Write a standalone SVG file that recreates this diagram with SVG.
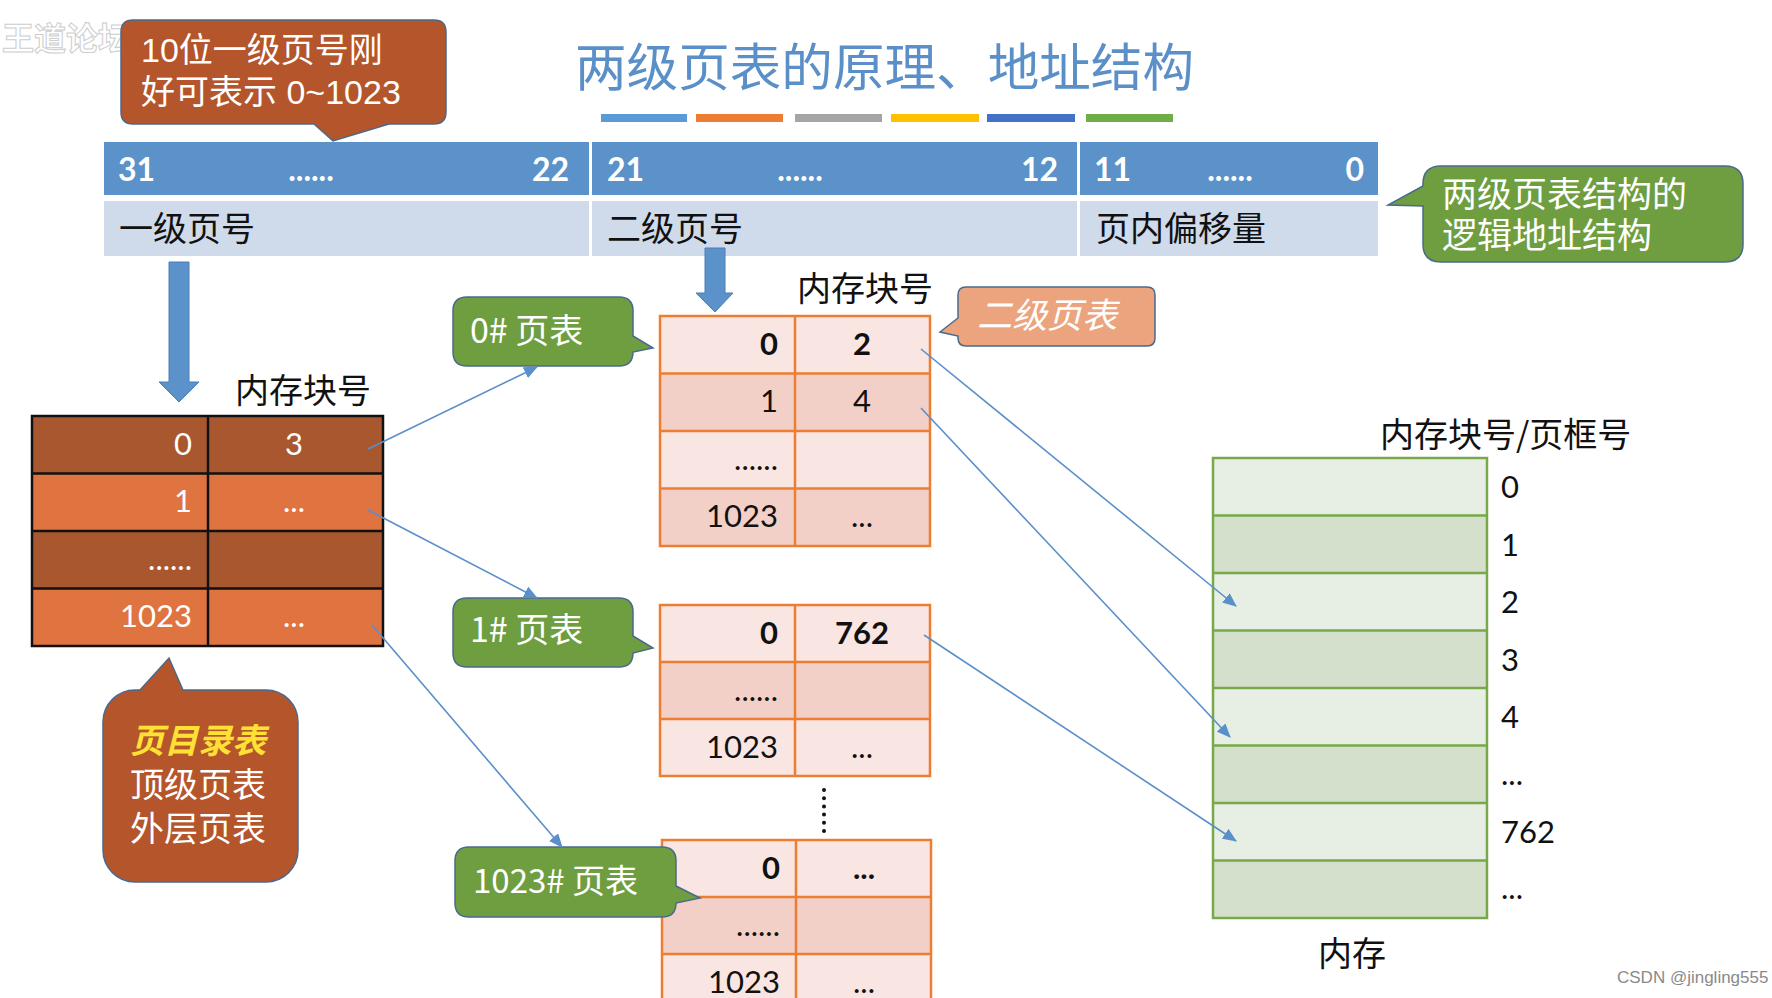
<svg xmlns="http://www.w3.org/2000/svg" width="1772" height="998" viewBox="0 0 1772 998">
<defs>
<style>
.cjk{font-family:"Noto Sans CJK SC","Noto Sans",sans-serif;}
.ml{font-family:"Liberation Sans","Noto Sans CJK SC",sans-serif;}
.num{font-family:Lato,"Noto Sans","Noto Sans CJK SC",sans-serif;}
.hdr{font-family:Lato,"Noto Sans",sans-serif;font-weight:bold;font-size:32px;fill:#fff;}
.lbl{font-family:"Noto Sans CJK SC",sans-serif;font-size:34px;fill:#111;}
.wt{fill:#fff;}
.bk{fill:#111;}
.conn{stroke:#5b8fc9;stroke-width:1.6;fill:none;marker-end:url(#ah);}
.bub{stroke:#4a6a8c;stroke-width:1.5;}
.pt{stroke:#ed7d31;stroke-width:2.5;}
.mem{stroke:#77a94a;stroke-width:2.5;}
.dir{stroke:#111;stroke-width:2.5;}
</style>
<marker id="ah" markerWidth="14" markerHeight="12" refX="13" refY="6" orient="auto" markerUnits="userSpaceOnUse">
<path d="M0,0 L14,6 L0,12 Z" fill="#5b8fc9"/>
</marker>
</defs>
<rect width="1772" height="998" fill="#fff"/>

<!-- watermark -->
<text x="2" y="50" class="cjk" font-size="32" font-weight="bold" fill="#fff" stroke="#c8c8c8" stroke-width="1" opacity="0.9">王道论坛</text>

<!-- title -->
<g id="title">
<text x="575" y="86" class="cjk" font-size="51" fill="#5a8fc8" textLength="619" lengthAdjust="spacingAndGlyphs">两级页表的原理、地址结构</text>
<rect x="601" y="114" width="86" height="8" fill="#5b9bd5"/>
<rect x="696" y="114" width="87" height="8" fill="#ed7d31"/>
<rect x="795" y="114" width="87" height="8" fill="#a5a5a5"/>
<rect x="891" y="114" width="88" height="8" fill="#ffc000"/>
<rect x="987" y="114" width="88" height="8" fill="#4472c4"/>
<rect x="1086" y="114" width="87" height="8" fill="#70ad47"/>
</g>

<!-- callout top-left -->
<g id="callout-10bit">
<path class="bub" d="M133,20 H434 Q446,20 446,32 V112 Q446,124 434,124 H389 L333,141 L314,124 H133 Q121,124 121,112 V32 Q121,20 133,20 Z" fill="#b5552b"/>
<text x="141" y="62" class="ml wt" font-size="34">10位一级页号刚</text>
<text x="141" y="104" class="ml wt" font-size="34">好可表示 0~1023</text>
</g>

<!-- logical address header -->
<g id="address">
<rect x="104" y="142" width="485" height="53" fill="#5b92c9"/>
<rect x="592" y="142" width="485" height="53" fill="#5b92c9"/>
<rect x="1080" y="142" width="298" height="53" fill="#5b92c9"/>
<rect x="104" y="201" width="485" height="55" fill="#cfdbeb"/>
<rect x="592" y="201" width="485" height="55" fill="#cfdbeb"/>
<rect x="1080" y="201" width="298" height="55" fill="#cfdbeb"/>
<text x="118" y="181" class="hdr">31</text>
<text x="311" y="181" class="hdr" text-anchor="middle">......</text>
<text x="569" y="181" class="hdr" text-anchor="end">22</text>
<text x="607" y="181" class="hdr">21</text>
<text x="800" y="181" class="hdr" text-anchor="middle">......</text>
<text x="1058" y="181" class="hdr" text-anchor="end">12</text>
<text x="1094" y="181" class="hdr">11</text>
<text x="1230" y="181" class="hdr" text-anchor="middle">......</text>
<text x="1364" y="181" class="hdr" text-anchor="end">0</text>
<text x="119" y="241" class="lbl">一级页号</text>
<text x="607" y="241" class="lbl">二级页号</text>
<text x="1096" y="241" class="lbl">页内偏移量</text>
</g>

<!-- green callout right -->
<g id="callout-structure">
<path class="bub" d="M1441,166 H1725 Q1743,166 1743,184 V244 Q1743,262 1725,262 H1441 Q1423,262 1423,244 V206 L1388,205 L1423,186 V184 Q1423,166 1441,166 Z" fill="#6e9e40"/>
<text x="1442" y="207" class="ml wt" font-size="35">两级页表结构的</text>
<text x="1442" y="248" class="ml wt" font-size="35">逻辑地址结构</text>
</g>

<!-- blue down arrows -->
<g id="arrow-down-1">
<path d="M169,262 H189 V382 H199 L179,402 L159,382 H169 Z" fill="#5b92c9" stroke="#4a7fb5" stroke-width="1"/>
</g>
<g id="arrow-down-2">
<path d="M705,248 H725 V293 H733 L715,312 L696,293 H705 Z" fill="#5b92c9" stroke="#4a7fb5" stroke-width="1"/>
</g>

<!-- page directory table -->
<g id="page-directory">
<text x="235" y="403" class="lbl">内存块号</text>
<rect x="32" y="416" width="351" height="57.5" fill="#a9572f"/>
<rect x="32" y="473.5" width="351" height="57.5" fill="#e07440"/>
<rect x="32" y="531" width="351" height="57.5" fill="#a9572f"/>
<rect x="32" y="588.5" width="351" height="57.5" fill="#e07440"/>
<path class="dir" fill="none" d="M32,416 H383 V646 H32 Z M32,473.5 H383 M32,531 H383 M32,588.5 H383 M208,416 V646"/>
<text x="192" y="455" class="num wt" font-size="31" text-anchor="end">0</text>
<text x="294" y="455" class="num wt" font-size="31" text-anchor="middle">3</text>
<text x="192" y="512" class="num wt" font-size="31" text-anchor="end">1</text>
<text x="294" y="512" class="num wt" font-size="31" text-anchor="middle">...</text>
<text x="192" y="570" class="num wt" font-size="31" text-anchor="end">......</text>
<text x="192" y="627" class="num wt" font-size="31" text-anchor="end">1023</text>
<text x="294" y="627" class="num wt" font-size="31" text-anchor="middle">...</text>
</g>

<!-- bottom-left callout -->
<g id="callout-directory">
<path class="bub" d="M140,690 L169,658 L183,690 H266 A32,32 0 0 1 298,722 V850 A32,32 0 0 1 266,882 H135 A32,32 0 0 1 103,850 V722 A32,32 0 0 1 135,690 Z" fill="#b5552b"/>
<text x="198" y="753" class="ml" font-size="34" font-style="italic" font-weight="bold" fill="#ffe135" text-anchor="middle">页目录表</text>
<text x="198" y="797" class="ml wt" font-size="34" text-anchor="middle">顶级页表</text>
<text x="198" y="841" class="ml wt" font-size="34" text-anchor="middle">外层页表</text>
</g>

<!-- 0# page table -->
<g id="page-table-0">
<text x="797" y="301" class="lbl">内存块号</text>
<rect x="660" y="316" width="270" height="57.5" fill="#f9e5e1"/>
<rect x="660" y="373.5" width="270" height="57.5" fill="#f3d0c7"/>
<rect x="660" y="431" width="270" height="57.5" fill="#f9e5e1"/>
<rect x="660" y="488.5" width="270" height="57.5" fill="#f3d0c7"/>
<path class="pt" fill="none" d="M660,316 H930 V546 H660 Z M660,373.5 H930 M660,431 H930 M660,488.5 H930 M795,316 V546"/>
<text x="778" y="355" class="num bk" font-size="31" font-weight="bold" text-anchor="end">0</text>
<text x="862" y="355" class="num bk" font-size="31" font-weight="bold" text-anchor="middle">2</text>
<text x="778" y="412" class="num bk" font-size="31" text-anchor="end">1</text>
<text x="862" y="412" class="num bk" font-size="31" text-anchor="middle">4</text>
<text x="778" y="470" class="num bk" font-size="31" text-anchor="end">......</text>
<text x="778" y="527" class="num bk" font-size="31" text-anchor="end">1023</text>
<text x="862" y="527" class="num bk" font-size="31" text-anchor="middle">...</text>
</g>

<g id="callout-pt0">
<path class="bub" d="M467,297 H619 Q633,297 633,311 V336 L653,348 L633,352 Q633,366 619,366 H467 Q453,366 453,352 V311 Q453,297 467,297 Z" fill="#6e9e40"/>
<text x="470" y="343" class="cjk wt" font-size="34">0# 页表</text>
</g>

<g id="callout-second-level">
<path class="bub" d="M966,287 H1147 Q1155,287 1155,295 V338 Q1155,346 1147,346 H966 Q958,346 958,338 V336 L940,332 L958,318 V295 Q958,287 966,287 Z" fill="#eba47d"/>
<text x="977" y="328" class="cjk wt" font-size="35" font-style="italic">二级页表</text>
</g>

<!-- 1# page table -->
<g id="page-table-1">
<rect x="660" y="605" width="270" height="57" fill="#f9e5e1"/>
<rect x="660" y="662" width="270" height="57" fill="#f3d0c7"/>
<rect x="660" y="719" width="270" height="57" fill="#f9e5e1"/>
<path class="pt" fill="none" d="M660,605 H930 V776 H660 Z M660,662 H930 M660,719 H930 M795,605 V776"/>
<text x="778" y="644" class="num bk" font-size="31" font-weight="bold" text-anchor="end">0</text>
<text x="862" y="644" class="num bk" font-size="31" font-weight="bold" text-anchor="middle">762</text>
<text x="778" y="701" class="num bk" font-size="31" text-anchor="end">......</text>
<text x="778" y="758" class="num bk" font-size="31" text-anchor="end">1023</text>
<text x="862" y="758" class="num bk" font-size="31" text-anchor="middle">...</text>
</g>

<g id="callout-pt1">
<path class="bub" d="M467,598 H619 Q633,598 633,612 V636 L653,648 L633,653 Q633,667 619,667 H467 Q453,667 453,653 V612 Q453,598 467,598 Z" fill="#6e9e40"/>
<text x="470" y="642" class="cjk wt" font-size="34">1# 页表</text>
</g>

<line x1="824" y1="790" x2="824" y2="832" stroke="#111" stroke-width="4" stroke-linecap="round" stroke-dasharray="0 8.2"/>

<!-- 1023# page table -->
<g id="page-table-1023">
<rect x="662" y="840" width="269" height="57" fill="#f9e5e1"/>
<rect x="662" y="897" width="269" height="57" fill="#f3d0c7"/>
<rect x="662" y="954" width="269" height="50" fill="#f9e5e1"/>
<path class="pt" fill="none" d="M662,1004 V840 H931 V1004 M662,897 H931 M662,954 H931 M796,840 V1004"/>
<text x="780" y="879" class="num bk" font-size="31" font-weight="bold" text-anchor="end">0</text>
<text x="864" y="879" class="num bk" font-size="31" font-weight="bold" text-anchor="middle">...</text>
<text x="780" y="936" class="num bk" font-size="31" text-anchor="end">......</text>
<text x="780" y="993" class="num bk" font-size="31" text-anchor="end">1023</text>
<text x="864" y="993" class="num bk" font-size="31" text-anchor="middle">...</text>
</g>

<g id="callout-pt1023">
<path class="bub" d="M469,847 H662 Q676,847 676,861 V886 L700,898 L676,903 Q676,917 662,917 H469 Q455,917 455,903 V861 Q455,847 469,847 Z" fill="#6e9e40"/>
<text x="473" y="893" class="cjk wt" font-size="33">1023# 页表</text>
</g>

<!-- memory -->
<g id="memory">
<text x="1380" y="447" class="lbl">内存块号/页框号</text>
<rect x="1213" y="458" width="274" height="57.5" fill="#e7eee3"/>
<rect x="1213" y="515.5" width="274" height="57.5" fill="#d4e0cc"/>
<rect x="1213" y="573" width="274" height="57.5" fill="#e7eee3"/>
<rect x="1213" y="630.5" width="274" height="57.5" fill="#d4e0cc"/>
<rect x="1213" y="688" width="274" height="57.5" fill="#e7eee3"/>
<rect x="1213" y="745.5" width="274" height="57.5" fill="#d4e0cc"/>
<rect x="1213" y="803" width="274" height="57.5" fill="#e7eee3"/>
<rect x="1213" y="860.5" width="274" height="57.5" fill="#d4e0cc"/>
<path class="mem" fill="none" d="M1213,458 H1487 V918 H1213 Z M1213,515.5 H1487 M1213,573 H1487 M1213,630.5 H1487 M1213,688 H1487 M1213,745.5 H1487 M1213,803 H1487 M1213,860.5 H1487"/>
<text x="1501" y="498" class="num bk" font-size="31">0</text>
<text x="1501" y="556" class="num bk" font-size="31">1</text>
<text x="1501" y="613" class="num bk" font-size="31">2</text>
<text x="1501" y="671" class="num bk" font-size="31">3</text>
<text x="1501" y="728" class="num bk" font-size="31">4</text>
<text x="1501" y="785" class="num bk" font-size="31">...</text>
<text x="1501" y="843" class="num bk" font-size="31">762</text>
<text x="1501" y="899" class="num bk" font-size="31">...</text>
<text x="1318" y="966" class="lbl">内存</text>
</g>

<!-- connectors -->
<g id="connectors">
<line class="conn" x1="368" y1="449" x2="537" y2="367"/>
<line class="conn" x1="368" y1="510" x2="537" y2="598"/>
<line class="conn" x1="372" y1="625" x2="562" y2="847"/>
<line class="conn" x1="921" y1="349" x2="1236" y2="606"/>
<line class="conn" x1="921" y1="408" x2="1230" y2="737"/>
<line class="conn" x1="924" y1="635" x2="1236" y2="841"/>
</g>

<text x="1617" y="983" font-family="'Liberation Sans',Arial,sans-serif" font-size="17" fill="#8a8a8a">CSDN @jingling555</text>
</svg>
